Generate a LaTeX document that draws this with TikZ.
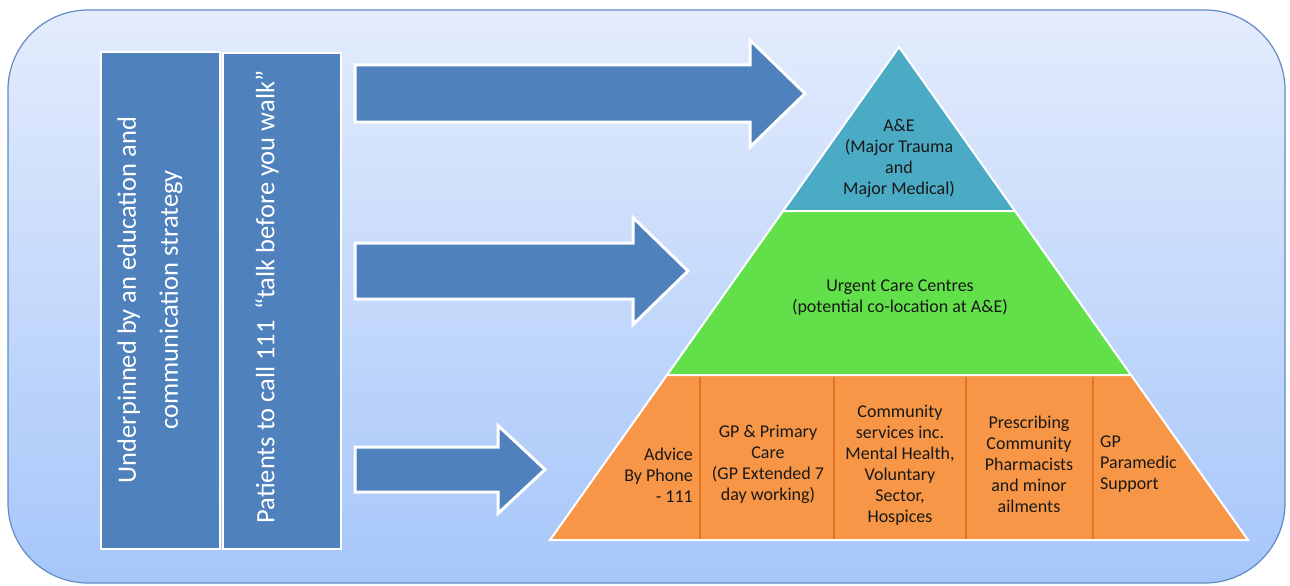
\documentclass[tikz,border=0pt]{standalone}
\usepackage{fontspec}
\setmainfont{Carlito}

\definecolor{barblue}{RGB}{79,129,189}
\definecolor{aeteal}{RGB}{75,170,196}
\definecolor{ucgreen}{RGB}{98,224,74}
\definecolor{pcorange}{RGB}{247,150,70}
\definecolor{pcline}{RGB}{226,116,36}
\definecolor{bgtop}{RGB}{227,236,252}
\definecolor{bgbottom}{RGB}{166,198,250}
\definecolor{bgedge}{RGB}{100,138,196}

\begin{document}
\begin{tikzpicture}[x=1pt,y=-1pt,
  bar/.style={fill=barblue,draw=white,line width=2pt},
  blockarrow/.style={fill=barblue,draw=white,line width=3pt,line join=miter},
  tier/.style={draw=white,line width=2pt},
  bartext/.style={rotate=90,text=white,font=\fontsize{26.5}{42}\selectfont,align=center,inner sep=0pt},
  tiertext/.style={font=\fontsize{18}{21}\selectfont,align=center,inner sep=0pt,text=black!90}]

  \useasboundingbox (0,0) rectangle (1290,586);

% BACKGROUND
  \draw[bgedge, line width=1.2pt, top color=bgtop, bottom color=bgbottom, rounded corners=80pt] (8,10) rectangle (1285,583);

% BARS
  \draw[bar] (101,52) rectangle (220,549);
  \draw[bar] (223,53) rectangle (341,549);
  \node[bartext] (edu) at (150,300) {Underpinned by an education and\\communication strategy};
  \node[bartext] (talk) at (267,297) {Patients to call 111\hspace{0.4em}“talk before you walk”};

% ARROWS
  \foreach \yc/\hb/\hh/\xh/\xt in {93.5/28.5/53.5/750/805, 271/28/53.5/633/688, 469.5/22.5/44/498/545}
      \draw[blockarrow] (355,\yc-\hb) -- (\xh,\yc-\hb) -- (\xh,\yc-\hh) -- (\xt,\yc)
        -- (\xh,\yc+\hh) -- (\xh,\yc+\hb) -- (355,\yc+\hb) -- cycle;

% PYRAMID
  \draw[tier, fill=aeteal] (899,47) -- (1015,211) -- (783,211) -- cycle;
  \draw[tier, fill=ucgreen] (783,211) -- (1015,211) -- (1131,375) -- (667,375) -- cycle;
  \draw[tier, fill=pcorange] (667,375) -- (1131,375) -- (1248,540) -- (550,540) -- cycle;
  \foreach \x in {700, 834, 966, 1093}
      \draw[pcline, line width=2pt] (\x,377) -- (\x,539);

% Top tier
  \node[tiertext] (ae) at (899,158) {A\&E\\(Major Trauma\\and\\Major Medical)};

% Middle tier
  \node[tiertext] (ucc) at (900,298) {Urgent Care Centres\\(potential co-location at A\&E)};

% Bottom tier
  \node[tiertext, align=right, anchor=east] (advice) at (693,475) {Advice\\By Phone\\- 111};
  \node[tiertext] (gp) at (768,464) {GP \& Primary\\Care\\(GP Extended 7\\day working)};
  \node[tiertext] (community) at (900,465) {Community\\services inc.\\Mental Health,\\Voluntary\\Sector,\\Hospices};
  \node[tiertext] (pharmacy) at (1029,464) {Prescribing\\Community\\Pharmacists\\and minor\\ailments};
  \node[tiertext, align=left, anchor=west] (paramedic) at (1100,464) {GP\\Paramedic\\Support};
\end{tikzpicture}
\end{document}
